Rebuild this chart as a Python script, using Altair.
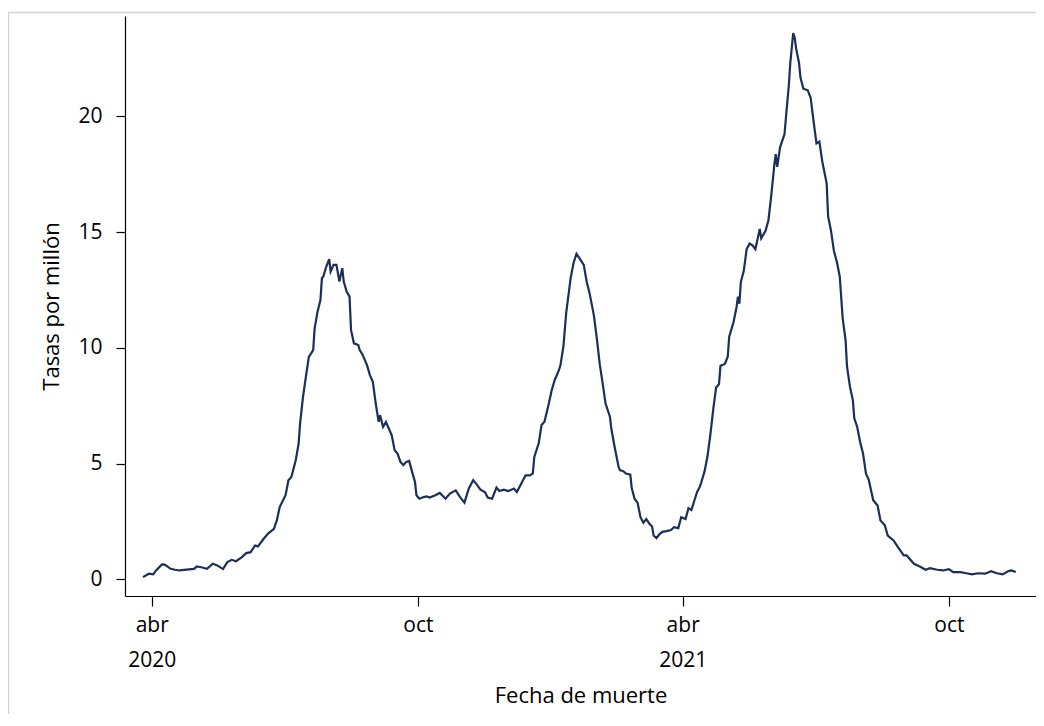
import altair as alt
import pandas as pd

# Days relative to 2020-04-01 and daily death rate per million
days = [-6, -2, 1, 3, 7, 9, 13, 16, 19, 24, 29, 31, 34, 38, 42, 45, 49, 52, 55, 58,
        62, 65, 68, 71, 73, 77, 80, 84, 86, 88, 92, 94, 96, 99, 101, 102, 104, 106, 108, 111,
        112, 114, 116, 117, 118, 120, 122, 123, 125, 127, 129, 131, 132, 134, 136, 137, 139, 142, 143, 145,
        148, 150, 152, 154, 156, 157, 159, 161, 163, 165, 167, 169, 171, 173, 175, 177, 179, 181, 182, 184,
        187, 189, 191, 195, 198, 202, 205, 209, 212, 215, 218, 221, 223, 226, 229, 231, 234, 237, 239, 242,
        245, 249, 251, 254, 257, 260, 262, 263, 266, 268, 270, 273, 275, 277, 280, 281, 283, 285, 288, 290,
        292, 294, 297, 299, 301, 304, 306, 308, 310, 312, 315, 316, 318, 321, 322, 324, 326, 329, 330, 332,
        334, 336, 338, 340, 342, 344, 345, 347, 349, 351, 354, 357, 359, 362, 364, 367, 369, 371, 373, 375,
        377, 380, 382, 384, 386, 388, 390, 391, 394, 396, 397, 400, 402, 403, 404, 405, 407, 409, 411, 413,
        415, 418, 419, 422, 424, 426, 428, 429, 430, 432, 435, 436, 438, 439, 441, 442, 443, 445, 446, 448,
        451, 453, 455, 457, 459, 461, 464, 465, 467, 469, 471, 473, 475, 477, 478, 480, 482, 483, 485, 487,
        489, 491, 493, 496, 499, 501, 504, 506, 510, 513, 517, 519, 524, 528, 532, 535, 540, 544, 548, 551,
        556, 560, 564, 568, 573, 577, 581, 585, 589, 591, 594]
rates = [0.10, 0.25, 0.22, 0.39, 0.65, 0.64, 0.46, 0.42, 0.39, 0.43, 0.46, 0.56, 0.53, 0.46, 0.68, 0.61, 0.45, 0.75, 0.85, 0.79,
         0.97, 1.14, 1.18, 1.47, 1.43, 1.76, 1.98, 2.19, 2.55, 3.13, 3.64, 4.29, 4.43, 5.15, 5.87, 6.74, 7.89, 8.76, 9.62, 9.91,
         10.85, 11.57, 12.08, 13.02, 13.09, 13.52, 13.84, 13.30, 13.59, 13.59, 12.87, 13.45, 12.87, 12.44, 12.22, 10.78, 10.20, 10.13, 9.91, 9.70,
         9.26, 8.83, 8.54, 7.60, 6.81, 7.10, 6.59, 6.81, 6.52, 6.23, 5.58, 5.44, 5.08, 4.94, 5.08, 5.12, 4.65, 4.21, 3.64, 3.49,
         3.56, 3.59, 3.54, 3.64, 3.74, 3.49, 3.71, 3.85, 3.56, 3.32, 3.93, 4.29, 4.14, 3.88, 3.78, 3.54, 3.49, 3.97, 3.82, 3.88,
         3.82, 3.93, 3.78, 4.14, 4.50, 4.50, 4.58, 5.29, 5.87, 6.67, 6.81, 7.60, 8.18, 8.61, 9.05, 9.26, 10.06, 11.55, 13.02, 13.67,
         14.07, 13.88, 13.59, 12.87, 12.37, 11.40, 10.40, 9.30, 8.47, 7.60, 7.03, 6.50, 5.80, 4.85, 4.72, 4.69, 4.58, 4.53, 3.95, 3.48,
         3.32, 2.69, 2.45, 2.61, 2.42, 2.29, 1.90, 1.79, 1.95, 2.06, 2.09, 2.14, 2.26, 2.22, 2.69, 2.61, 3.08, 3.00, 3.40, 3.79,
         4.03, 4.66, 5.29, 6.23, 7.34, 8.29, 8.44, 9.23, 9.31, 9.62, 10.49, 11.12, 11.75, 12.22, 11.91, 12.85, 13.32, 14.27, 14.51, 14.43,
         14.27, 15.14, 14.74, 15.06, 15.53, 16.64, 17.90, 18.37, 17.82, 18.68, 19.23, 19.94, 21.36, 22.31, 23.60, 23.41, 22.94, 22.31, 21.68, 21.20,
         21.13, 20.81, 19.79, 18.84, 18.92, 18.05, 17.11, 15.69, 15.06, 14.19, 13.72, 13.09, 11.29, 10.35, 9.19, 8.33, 7.75, 6.96, 6.59, 5.94,
         5.44, 4.58, 4.29, 3.42, 3.20, 2.55, 2.34, 1.90, 1.69, 1.40, 1.04, 1.04, 0.68, 0.56, 0.42, 0.49, 0.42, 0.39, 0.45, 0.32,
         0.32, 0.27, 0.22, 0.27, 0.25, 0.36, 0.27, 0.22, 0.36, 0.39, 0.32]

y_ticks = [0, 5, 10, 15, 20]
x_tick_dates = [(2020, 4, 1), (2020, 10, 1), (2021, 4, 1), (2021, 10, 1)]

base = pd.Timestamp("2020-04-01")
df = pd.DataFrame({
    "date": [(base + pd.Timedelta(days=d)).strftime("%Y-%m-%d") for d in days],
    "rate": rates,
})

FONT = "Open Sans"
LINE_COLOR = "#1b2f58"

line = alt.Chart(df).mark_line(color=LINE_COLOR, strokeWidth=2.2, clip=True).encode(
    x=alt.X(
        "date:T",
        scale=alt.Scale(
            type="utc",
            domain=[alt.DateTime(year=2020, month=3, date=13, hours=15, utc=True),
                    alt.DateTime(year=2021, month=11, date=29, hours=22, utc=True)],
            nice=False,
        ),
        axis=alt.Axis(
            title="Fecha de muerte",
            values=[alt.DateTime(year=y, month=m, date=d, utc=True) for (y, m, d) in x_tick_dates],
            labelExpr="utcmonth(datum.value) == 3 ? ['abr', '' + utcyear(datum.value)] : 'oct'",
            labelLineHeight=35,
            tickSize=10,
            labelPadding=8,
            titlePadding=15,
            titleFontSize=22,
            grid=False,
        ),
    ),
    y=alt.Y(
        "rate:Q",
        scale=alt.Scale(domain=[-0.713, 24.34], nice=False, zero=False),
        axis=alt.Axis(
            title="Tasas por millón",
            values=y_ticks,
            tickSize=9,
            labelPadding=14,
            titlePadding=14,
            titleFontSize=22,
            grid=False,
            labelAngle=0,
        ),
    ),
)

frame = alt.Chart(pd.DataFrame({"k": [0]})).mark_rect(
    filled=False, stroke="#d3d3d3", strokeWidth=1.5, clip=False
).encode(
    x=alt.value(-116.5), x2=alt.value(1100), y=alt.value(-3.5), y2=alt.value(900)
)

chart = alt.layer(frame, line).properties(
    width=911,
    height=580,
    autosize=alt.AutoSizeParams(type="none"),
    padding={"left": 117, "top": 8, "right": 0, "bottom": 118},
).configure_view(stroke=None).configure_axis(
    labelFont=FONT,
    titleFont=FONT,
    labelFontSize=21,
    titleFontWeight="normal",
    labelColor="black",
    titleColor="black",
    domainColor="black",
    tickColor="black",
    domainWidth=1.2,
    tickWidth=1.2,
)

chart.save("out.html", embed_options={"renderer": "svg", "actions": False})
